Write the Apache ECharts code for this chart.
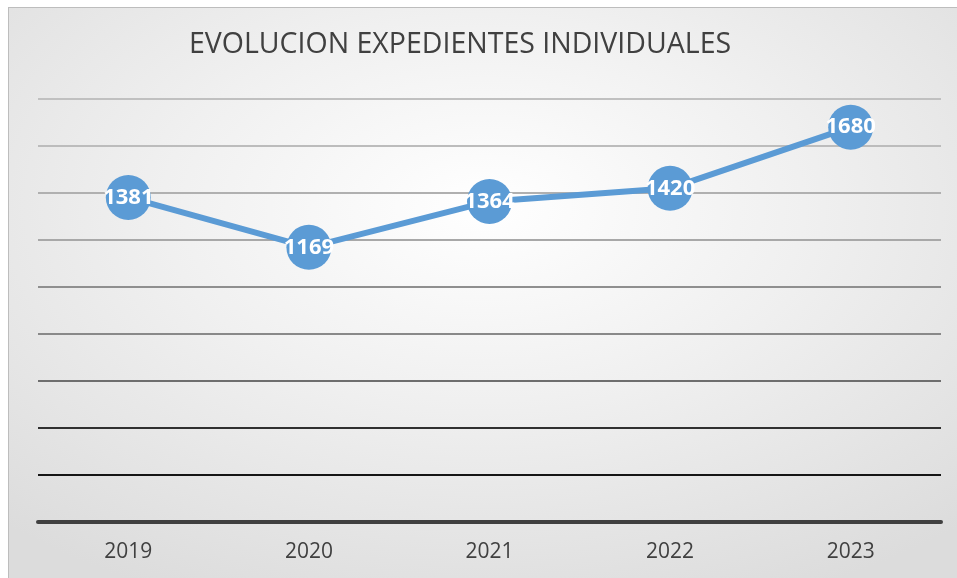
<!DOCTYPE html>
<html>
<head>
<meta charset="utf-8">
<script src="https://cdn.jsdelivr.net/npm/echarts@6/dist/echarts.min.js"></script>
<style>
  html, body { margin: 0; padding: 0; background: #fff; overflow: hidden; }
  #chart {
    position: absolute; left: 8px; top: 7px;
    width: 949px; height: 571px;
    border-left: 1px solid #bdbdbd; border-top: 1px solid #bdbdbd;
    background: radial-gradient(ellipse 75% 75% at 50% 35%, #ffffff 0%, #f0f0f0 45%, #dcdcdc 100%);
  }
</style>
</head>
<body>
<div id="chart"></div>
<script>
// datos
const years = ['2019', '2020', '2021', '2022', '2023']
const expedientes = [1381, 1169, 1364, 1420, 1680]
const titleText = 'EVOLUCION EXPEDIENTES INDIVIDUALES'

// colores de las líneas de cuadrícula, desde 0 hacia arriba
const gridColors = ['#404040', '#151515', '#303030', '#6e6e6e', '#898989', '#8f8f8f', '#a8a8a8', '#b0b0b0', '#bcbcbc', '#c0c0c0']

const font = '"Open Sans", sans-serif'

const chart = echarts.init(document.getElementById('chart'))

const option = {
  animation: false,
  title: {
    text: titleText,
    left: 446,
    top: 17,
    textAlign: 'center',
    textStyle: {
      fontFamily: font,
      fontSize: 28.5,
      fontWeight: 'normal',
      color: '#404040',
    },
  },
  grid: {
    left: 29,
    right: 17,
    top: 91,
    bottom: 57,
  },
  xAxis: {
    type: 'category',
    data: years,
    boundaryGap: true,
    axisLine: { lineStyle: { color: '#404040', width: 4 } },
    axisTick: { show: false },
    axisLabel: {
      margin: 20,
      fontFamily: font,
      fontSize: 21,
      color: '#404040',
    },
  },
  yAxis: {
    type: 'value',
    min: 0,
    max: 1800,
    interval: 200,
    axisLabel: { show: false },
    axisLine: { show: false },
    axisTick: { show: false },
    splitLine: {
      lineStyle: { color: gridColors, width: 2 },
    },
  },
  series: [
    {
      type: 'line',
      data: expedientes,
      symbol: 'circle',
      symbolSize: 45,
      lineStyle: { color: '#5b9bd5', width: 6 },
      itemStyle: { color: '#5b9bd5' },
      label: {
        show: true,
        position: 'inside',
        fontFamily: font,
        fontSize: 22,
        fontWeight: 'bold',
        color: '#fff',
      },
    },
  ],
}

chart.setOption(option)
</script>
</body>
</html>
